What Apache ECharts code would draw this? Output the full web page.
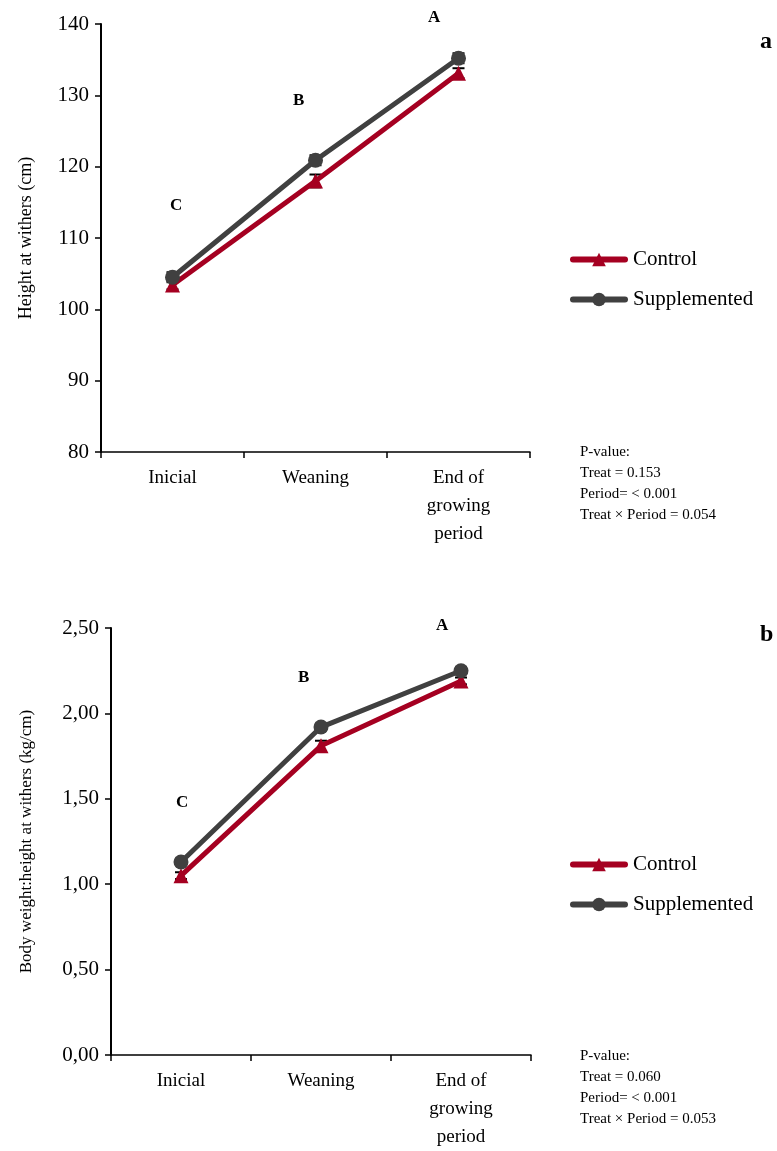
<!DOCTYPE html>
<html>
<head>
<meta charset="utf-8">
<script src="https://cdn.jsdelivr.net/npm/echarts@6/dist/echarts.min.js"></script>
<style>
html, body { margin: 0; padding: 0; background: #fff; }
#main { width: 777px; height: 1151px; }
</style>
</head>
<body>
<div id="main"></div>
<script>
var periods = ['Inicial', 'Weaning', 'End of\ngrowing\nperiod'];

// panel a: height at withers (cm)
var heightControl = [103.4, 118.0, 133.1];
var heightSupp = [104.5, 120.9, 135.2];
var heightControlErr = [0.6, 0.9, 0.7];
var heightSuppErr = [0.7, 0.7, 0.7];
var heightTicks = [80, 90, 100, 110, 120, 130, 140];

// panel b: body weight:height at withers (kg/cm)
var ratioControl = [1.05, 1.81, 2.19];
var ratioSupp = [1.13, 1.92, 2.25];
var ratioControlErr = [0.02, 0.03, 0.02];
var ratioSuppErr = [0.02, 0.02, 0.02];
var ratioTicks = [0, 0.5, 1, 1.5, 2, 2.5];

var serif = 'Liberation Serif';
var red = '#A50021';
var grey = '#404040';

function errData(vals, errs) {
    return vals.map(function (v, i) { return [i, v - errs[i], v + errs[i]]; });
}

function errorBars(name, xi, yi, data) {
    return {
        name: name + ' err',
        type: 'custom',
        xAxisIndex: xi,
        yAxisIndex: yi,
        z: 1,
        silent: true,
        renderItem: function (params, api) {
            var lo = api.coord([api.value(0), api.value(1)]);
            var hi = api.coord([api.value(0), api.value(2)]);
            var w = 6;
            var st = { stroke: '#000', lineWidth: 2 };
            return {
                type: 'group',
                children: [
                    { type: 'line', shape: { x1: lo[0], y1: lo[1], x2: hi[0], y2: hi[1] }, style: st },
                    { type: 'line', shape: { x1: lo[0] - w, y1: lo[1], x2: lo[0] + w, y2: lo[1] }, style: st },
                    { type: 'line', shape: { x1: hi[0] - w, y1: hi[1], x2: hi[0] + w, y2: hi[1] }, style: st }
                ]
            };
        },
        data: data
    };
}

function lineSeries(name, xi, yi, data, color, symbol, size) {
    return {
        name: name,
        type: 'line',
        xAxisIndex: xi,
        yAxisIndex: yi,
        z: 3,
        symbol: symbol,
        symbolSize: size,
        showAllSymbol: true,
        lineStyle: { color: color, width: 5 },
        itemStyle: { color: color },
        data: data
    };
}

function xAxisCfg(gi) {
    return {
        type: 'category',
        gridIndex: gi,
        data: periods,
        boundaryGap: true,
        axisLine: { lineStyle: { color: '#000', width: 1.5 } },
        axisTick: { show: true, interval: 0, length: 6, lineStyle: { color: '#000', width: 1.5 } },
        axisLabel: { fontFamily: serif, fontSize: 19, color: '#000', lineHeight: 28, margin: 12, interval: 0 }
    };
}

function yAxisCfg(gi, ticks, name, nameSize, fmt, nameGap) {
    return {
        type: 'value',
        gridIndex: gi,
        min: ticks[0],
        max: ticks[ticks.length - 1],
        interval: ticks[1] - ticks[0],
        name: name,
        nameLocation: 'middle',
        nameGap: nameGap,
        nameTextStyle: { fontFamily: serif, fontSize: nameSize, color: '#000' },
        splitLine: { show: false },
        axisLine: { show: true, lineStyle: { color: '#000', width: 2 } },
        axisTick: { show: true, length: 6, lineStyle: { color: '#000', width: 1.5 } },
        axisLabel: { fontFamily: serif, fontSize: 21, color: '#000', margin: 12, formatter: fmt }
    };
}

function legendCfg(top) {
    return {
        orient: 'vertical',
        left: 565,
        top: top,
        itemWidth: 52,
        itemHeight: 17,
        itemGap: 19,
        data: ['Control', 'Supplemented'],
        lineStyle: { width: 6, cap: 'round' },
        textStyle: { fontFamily: serif, fontSize: 21, color: '#000', padding: [0, 0, 0, 3] }
    };
}

function txt(x, y, s, size, weight) {
    return {
        type: 'text', left: x, top: y,
        style: { text: s, fontFamily: serif, fontSize: size, fontWeight: weight || 'normal', fill: '#000', lineHeight: 21 }
    };
}

var chart = echarts.init(document.getElementById('main'));
chart.setOption({
    animation: false,
    backgroundColor: '#fff',
    grid: [
        { left: 101, top: 24, width: 429, height: 428 },
        { left: 111, top: 628, width: 420, height: 429 }
    ],
    xAxis: [xAxisCfg(0), xAxisCfg(1)],
    yAxis: [
        yAxisCfg(0, heightTicks, 'Height at withers (cm)', 18, null, 66),
        yAxisCfg(1, ratioTicks, 'Body weight:height at withers (kg/cm)', 17,
            function (v) { return v.toFixed(2).replace('.', ','); }, 76)
    ],
    legend: [legendCfg(244), legendCfg(849)],
    series: [
        errorBars('Control', 0, 0, errData(heightControl, heightControlErr)),
        errorBars('Supplemented', 0, 0, errData(heightSupp, heightSuppErr)),
        lineSeries('Control', 0, 0, heightControl, red, 'triangle', 15),
        lineSeries('Supplemented', 0, 0, heightSupp, grey, 'circle', 15),
        errorBars('Control', 1, 1, errData(ratioControl, ratioControlErr)),
        errorBars('Supplemented', 1, 1, errData(ratioSupp, ratioSuppErr)),
        lineSeries('Control', 1, 1, ratioControl, red, 'triangle', 15),
        lineSeries('Supplemented', 1, 1, ratioSupp, grey, 'circle', 15)
    ],
    graphic: [
        txt(428, 7, 'A', 17, 'bold'),
        txt(293, 90, 'B', 17, 'bold'),
        txt(170, 195, 'C', 17, 'bold'),
        txt(760, 30, 'a', 24, 'bold'),
        txt(580, 442, 'P-value:\nTreat = 0.153\nPeriod= < 0.001\nTreat \u00d7 Period = 0.054', 15),
        txt(436, 615, 'A', 17, 'bold'),
        txt(298, 667, 'B', 17, 'bold'),
        txt(176, 792, 'C', 17, 'bold'),
        txt(760, 623, 'b', 24, 'bold'),
        txt(580, 1046, 'P-value:\nTreat = 0.060\nPeriod= < 0.001\nTreat \u00d7 Period = 0.053', 15)
    ]
});
</script>
</body>
</html>
